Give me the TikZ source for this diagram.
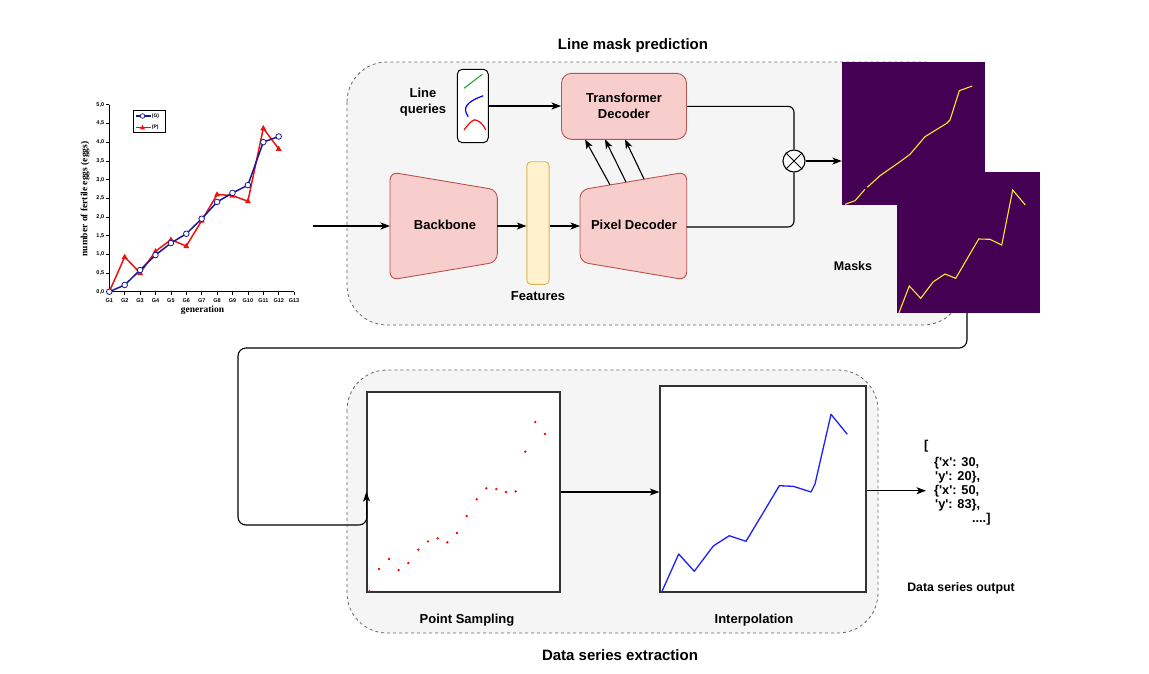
\documentclass[tikz,border=0pt]{standalone}
\usepackage{fontspec}
\setmainfont{Liberation Sans}
\newfontfamily\chartserif{Liberation Serif}
\usetikzlibrary{arrows.meta}
\definecolor{pinkf}{HTML}{F8CECC}
\definecolor{pinkd}{HTML}{B85450}
\definecolor{yelf}{HTML}{FFF2CC}
\definecolor{yeld}{HTML}{D6B656}
\definecolor{contf}{HTML}{F5F5F5}
\definecolor{contd}{HTML}{666666}
\definecolor{vpur}{HTML}{440154}
\definecolor{vyel}{HTML}{FDE725}
\definecolor{cblue}{HTML}{1A1A96}
\definecolor{cred}{HTML}{F01010}
\definecolor{iblue}{HTML}{1E1EFF}
\definecolor{qgreen}{HTML}{1AA01A}
\tikzset{
  lbl/.style={font=\bfseries\fontsize{13pt}{16pt}\selectfont, align=center, inner sep=0pt},
  ttl/.style={font=\bfseries\fontsize{15pt}{18pt}\selectfont, inner sep=0pt},
  jsn/.style={font=\bfseries\fontsize{12.8pt}{14pt}\selectfont, inner sep=0pt},
  cont/.style={draw=contd, fill=contf, dash pattern=on 3pt off 3pt, line width=0.8pt, rounded corners=40pt},
  pinkshape/.style={draw=pinkd, fill=pinkf, line width=0.9pt, rounded corners=8pt},
  conn/.style={draw=black, line width=1.1pt},
  arr/.style={conn, -{Stealth[length=9.5pt,width=7pt,inset=2.5pt]}},
  plotbox/.style={draw=black!80, fill=white, line width=1.3pt, inner sep=0pt},
  maskbox/.style={fill=vpur, inner sep=0pt},
  mline/.style={vyel, line width=1.1pt},
  tk/.style={font=\bfseries\fontsize{5.5pt}{6pt}\selectfont, inner sep=0pt},
  rdot/.style={fill=red},
}
\begin{document}
\begin{tikzpicture}[x=1pt,y=-1pt]
\useasboundingbox (0,0) rectangle (1149,673);
\fill[white] (0,0) rectangle (1149,673);

% ---------- containers ----------
\draw[cont] (347,62) rectangle (963,325);
\draw[cont] (347,370) rectangle (878,633);
\node[ttl] (t1) at (633,46) {Line mask prediction};
\node[ttl] (t2) at (620,655) {Data series extraction};

% ---------- input chart ----------
\begin{scope}[shift={(109.3,291.7)}]
\begin{scope}[x=15.4pt,y=37.4pt]
  \draw[line width=0.6pt] (0,5) -- (0,0) -- (12,0);
  \foreach \v/\t in {0/{0,0},0.5/{0,5},1/{1,0},1.5/{1,5},2/{2,0},2.5/{2,5},3/{3,0},3.5/{3,5},4/{4,0},4.5/{4,5},5/{5,0}}{
    \draw[line width=0.5pt] (0,\v) -- ++(-3pt,0);
    \node[tk,anchor=east,xshift=-5pt] at (0,\v) {\t};
  }
  \foreach \i in {1,...,13}{
    \draw[line width=0.5pt] ({\i-1},0) -- ++(0,-3pt);
    \node[tk,yshift=-9pt] at ({\i-1},0) {G\i};
  }
  \draw[cred, line width=1.5pt] plot coordinates {(0,0) (1,0.93) (2,0.5) (3,1.08) (4,1.39) (5,1.22) (6,1.9) (7,2.6) (8,2.57) (9,2.42) (10,4.37) (11,3.82)};
  \foreach \i/\v in {0/0,1/0.93,2/0.5,3/1.08,4/1.39,5/1.22,6/1.9,7/2.6,8/2.57,9/2.42,10/4.37,11/3.82}{
    \fill[cred] (\i,\v) ++(0pt,3.2pt) -- ++(-3pt,-5.2pt) -- ++(6pt,0pt) -- cycle;
  }
  \draw[cblue, line width=1.5pt] plot coordinates {(0,0) (1,0.18) (2,0.58) (3,0.98) (4,1.3) (5,1.55) (6,1.95) (7,2.4) (8,2.64) (9,2.85) (10,4.0) (11,4.15)};
  \foreach \i/\v in {0/0,1/0.18,2/0.58,3/0.98,4/1.3,5/1.55,6/1.95,7/2.4,8/2.64,9/2.85,10/4.0,11/4.15}{
    \draw[cblue, fill=white, line width=0.8pt] (\i,\v) circle[radius=2.8pt];
  }
\end{scope}
\end{scope}
\node[font=\chartserif\bfseries\fontsize{9.5pt}{10pt}\selectfont, inner sep=0pt] (gen) at (202.5,310.7) {generation};
\node[font=\chartserif\bfseries\fontsize{9.5pt}{10pt}\selectfont, inner sep=0pt, rotate=90] (ylab) at (85,199) {number of fertile eggs (eggs)};
\node[draw, line width=0.5pt, minimum width=32.4pt, minimum height=21.6pt, inner sep=0pt] (leg) at (149.5,121.5) {};
\draw[cblue, line width=1.2pt] (135.7,116) -- (151,116);
\draw[cblue, fill=white, line width=0.7pt] (142.5,116) circle[radius=2.3pt];
\node[tk, anchor=west, font=\bfseries\fontsize{5pt}{6pt}\selectfont] (legG) at (151.7,116) {(G)};
\draw[cred, line width=1.2pt] (135.7,127.7) -- (151,127.7);
\fill[cred] (142.5,124.9) -- (145,129.3) -- (140,129.3) -- cycle;
\node[tk, anchor=west, font=\bfseries\fontsize{5pt}{6pt}\selectfont] (legP) at (151.7,127.7) {(P)};
\coordinate (chartout) at (313,226);

% ---------- backbone / features / pixel decoder ----------
\draw[pinkshape] (390,172) -- (497.3,190) -- (497.3,262) -- (390,280) -- cycle;
\node[lbl] (bb) at (445,225) {Backbone};
\coordinate (bbL) at (390,226);
\coordinate (bbR) at (497.3,226);
\node[draw=yeld, fill=yelf, line width=0.9pt, rounded corners=4pt, minimum width=22.3pt, minimum height=122.6pt, inner sep=0pt] (feat) at (538,223) {};
\node[lbl] (featl) at (538,296) {Features};
\draw[pinkshape] (580,190) -- (686.7,172) -- (686.7,280) -- (580,262) -- cycle;
\node[lbl] (pd) at (634,225) {Pixel Decoder};
\coordinate (pdL) at (580,226);
\coordinate (pdR) at (686.7,227);
\coordinate (pd1) at (610,184.9);
\coordinate (pd2) at (626,182.1);
\coordinate (pd3) at (644,179);

% ---------- transformer / queries ----------
\node[draw=pinkd, fill=pinkf, line width=0.9pt, rounded corners=10pt, minimum width=125pt, minimum height=66pt, inner sep=0pt, lbl] (td) at (624,106.3) {Transformer\\Decoder};
\coordinate (td1) at (585,139.3);
\coordinate (td2) at (605,139.3);
\coordinate (td3) at (625,139.3);
\node[draw=black, fill=white, line width=1pt, rounded corners=5pt, minimum width=31pt, minimum height=73.4pt, inner sep=0pt] (lq) at (472.8,106) {};
\draw[qgreen, line width=1pt] (464,88.3) -- (482.3,74.3);
\draw[blue, line width=1.2pt] (483.3,95.7) .. controls (466,102) and (462,108) .. (468.3,116.7);
\draw[red, line width=1.2pt] (464,130) .. controls (470,122) and (474,118) .. (477,120.5) .. controls (481,122) and (484,126) .. (485.7,130);
\node[lbl] (lql) at (423,102.5) {Line\\queries};

% ---------- multiply ----------
\node[draw=black, fill=white, circle, line width=1.1pt, minimum size=22pt, inner sep=0pt] (mul) at (794,161) {};
\draw[line width=1pt] (mul.north west) -- (mul.south east);
\draw[line width=1pt] (mul.north east) -- (mul.south west);

% ---------- masks ----------
\node[maskbox, minimum width=143pt, minimum height=143pt] (m1) at (913.5,133.5) {};
\draw[mline] (845,204.3) -- (855,200.7) -- (865,189.3);
\draw[mline] (867.3,187.3) -- (880,175.7) -- (900,161.7) -- (910,154.3) -- (925,136.7) -- (946.7,123.3) -- (950,120) -- (959.3,90.7) -- (972.3,86);
\node[maskbox, minimum width=143pt, minimum height=141pt] (m2) at (968.5,242.5) {};
\draw[mline] (899,312.7) -- (909.3,286) -- (920.7,298.3) -- (933.3,281.7) -- (945,274) -- (955.7,278.3) -- (978.7,239) -- (990,239.3) -- (1001.7,245) -- (1012.7,190) -- (1025.3,205);
\node[lbl, font=\bfseries\fontsize{12.5pt}{15pt}\selectfont] (maskl) at (853,265.7) {Masks};
\coordinate (r0) at (967,313);

% ---------- bottom plots ----------
\node[plotbox, minimum width=193pt, minimum height=200pt] (ps) at (463.5,492) {};
\foreach \px/\py in {369.3/591.3,379/569,389/559,398.7/570,408.3/563,418.3/549.7,428/541.3,437.7/538.3,447.3/542.3,457/533,466.7/516,476.7/499.3,486.3/488.3,496.3/489,506/492,515.7/491.3,525.3/451.7,535.3/422,545/434}{
  \fill[rdot] (\px,\py) circle[radius=1.3pt];
}
\node[lbl] (psl) at (467,620) {Point Sampling};
\node[plotbox, minimum width=206pt, minimum height=206pt] (ip) at (763,489) {};
\draw[iblue, line width=1.3pt, line join=round] (661.7,592) -- (678.7,554) -- (694.3,571.3) -- (713.3,546) -- (729.3,535.7) -- (746,541.3) -- (766,508) -- (779.3,485.7) -- (793.3,486.3) -- (811,492) -- (815,484) -- (831,414.3) -- (847.3,434.3);
\node[lbl] (ipl) at (754,620) {Interpolation};

% ---------- output ----------
\node[jsn, anchor=west] (j0) at (924,446) {[};
\node[jsn, anchor=west] (j1) at (934,462.7) {\{\textquotesingle x\textquotesingle: 30,};
\node[jsn, anchor=west] (j2) at (935,476.7) {\textquotesingle y\textquotesingle: 20\},};
\node[jsn, anchor=west] (j3) at (934,490.7) {\{\textquotesingle x\textquotesingle: 50,};
\node[jsn, anchor=west] (j4) at (935,505) {\textquotesingle y\textquotesingle: 83\},};
\node[jsn, anchor=east] (j5) at (990.7,519) {....]};
\node[lbl, font=\bfseries\fontsize{12.3pt}{14pt}\selectfont] (dso) at (961,588.3) {Data series output};

% ---------- connectors ----------
\draw[arr] (chartout) -- (bbL);
\draw[arr] (bbR) -- (feat.west |- bbR);
\draw[arr] (feat.east |- pdL) -- (pdL);
\draw[arr] (lq.east) -- (td.west |- lq.east);
\draw[arr] (pd1) -- (td1);
\draw[arr] (pd2) -- (td2);
\draw[arr] (pd3) -- (td3);
\draw[conn, rounded corners=6pt] (td.east) -- (794,106.3) -- (mul.north);
\draw[conn, rounded corners=6pt] (pdR) -- (794,227) -- (mul.south);
\draw[arr] (mul.east) -- (m1.west |- mul.east);
\draw[arr, rounded corners=8pt] (r0) -- (967,348) -- (238,348) -- (238,525) -- (367,525) -- (ps.west);
\draw[arr] (ps.east) -- (ip.west |- ps.east);
\draw[arr, shorten >=8pt] (ip.east |- j3.west) -- (j3.west);
\end{tikzpicture}
\end{document}
